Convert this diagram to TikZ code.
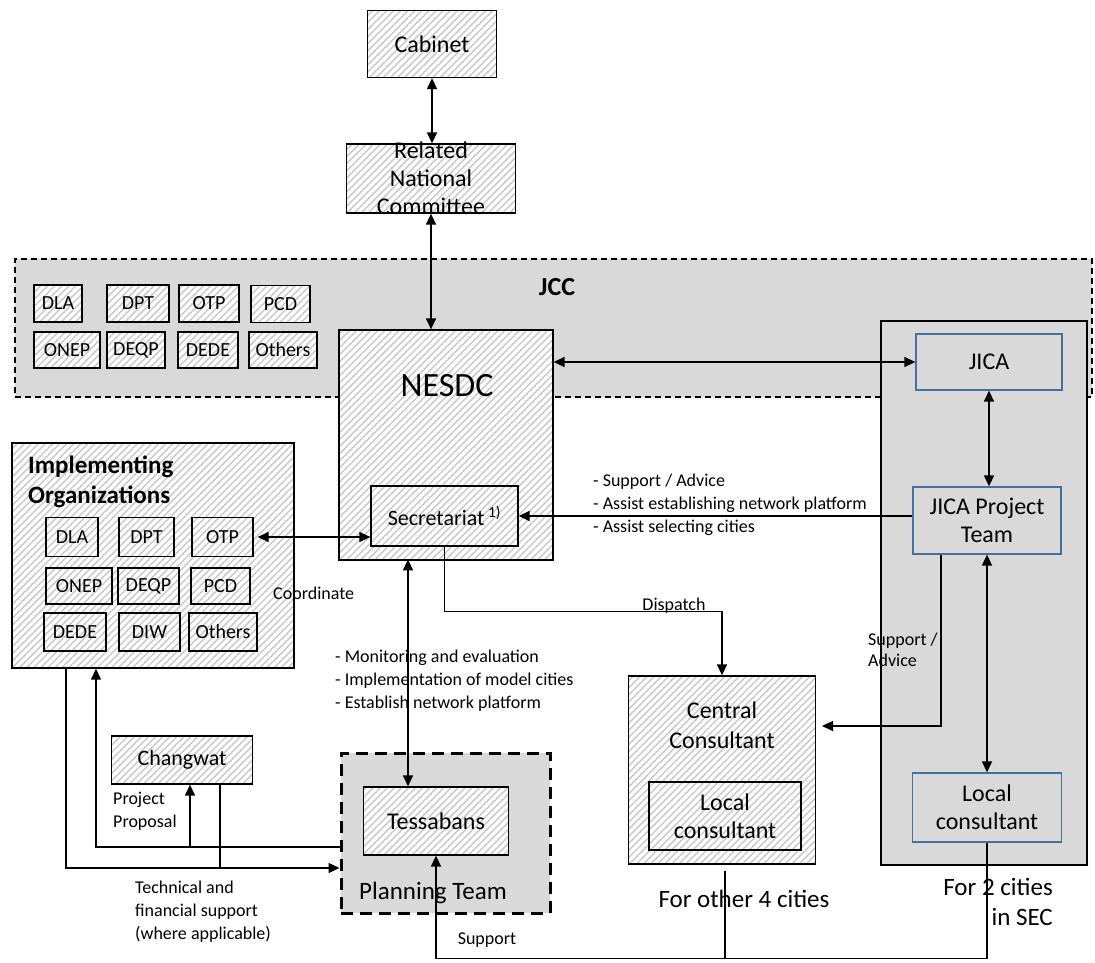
\documentclass[tikz,border=0pt]{standalone}
\usepackage{fontspec}
\setmainfont{Carlito}
\usetikzlibrary{arrows.meta,patterns.meta,positioning}
\definecolor{boxgray}{RGB}{217,217,217}
\definecolor{hatchgray}{RGB}{200,200,200}
\definecolor{jicablue}{RGB}{65,113,156}
\tikzset{
  hatched/.style={draw, line width=1.3pt, preaction={fill=white},
    pattern={Lines[angle=45,distance=5pt,line width=1.4pt]},
    pattern color=hatchgray, inner sep=0pt, align=center},
  bluebox/.style={draw=jicablue, line width=1.3pt, fill=boxgray, inner sep=0pt, align=center},
  boxtext/.style={font=\fontsize{24}{28}\selectfont, align=center, inner sep=0pt},
  orgtext/.style={font=\fontsize{20}{24}\selectfont},
  notetext/.style={font=\fontsize{18}{23}\selectfont, align=left, inner sep=0pt},
  link/.style={line width=1.4pt},
  onearrow/.style={-{Triangle[length=11pt,width=10pt]}},
  twoarrow/.style={{Triangle[length=11pt,width=10pt]}-{Triangle[length=11pt,width=10pt]}},
}
\begin{document}
\begin{tikzpicture}[x=1pt,y=-1pt]
\useasboundingbox (0,0) rectangle (1095,963);
% JCC band and JICA panel
\node[draw, fill=boxgray, line width=1.2pt, dash pattern=on 6pt off 4pt,
  minimum width=1077pt, minimum height=138pt, inner sep=0pt] (jcc) at (553.5,328) {};
\node[font=\bfseries\fontsize{26}{30}\selectfont, inner sep=0pt] (jcclabel) at (557,287) {JCC};
\node[draw, fill=boxgray, line width=1.3pt, minimum width=206pt, minimum height=544pt,
  inner sep=0pt] (team) at (984,593) {};
\foreach \name/\x/\y/\w/\h/\txt in {jdla/58/303.5/48/37/DLA, jdpt/138/303.5/62/37/DPT,
    jotp/209/303.5/60/37/OTP, jpcd/280.5/304/59/37/PCD, jonep/67/350/66/36/ONEP,
    jdeqp/136/350/58/36/DEQP, jdede/208/350/60/36/DEDE, joth/283/350/68/36/Others} % JCC members
  \node[hatched, orgtext, minimum width=\w pt, minimum height=\h pt] (\name) at (\x,\y) {\txt};

% top of the chain
\node[hatched, boxtext, minimum width=129pt, minimum height=67pt] (cab) at (432,44) {Cabinet};
\node[hatched, minimum width=169pt, minimum height=69pt] (rnc) at (431,178.5) {};
\node[boxtext] (rnctext) at (rnc) {Related\\National\\Committee};
\node[hatched, minimum width=214pt, minimum height=230pt] (nesdc) at (446,445) {};
\node[font=\fontsize{34}{40}\selectfont, inner sep=0pt] (nesdctext) at (447,386) {NESDC};
\node[hatched, font=\fontsize{22}{26}\selectfont, minimum width=147pt, minimum height=60pt]
  (secr) at (444.5,516) {Secretariat\,\textsuperscript{1)}};

% JICA side
\node[bluebox, boxtext, minimum width=146pt, minimum height=56pt] (jica) at (989,362) {JICA};
\node[bluebox, boxtext, minimum width=148pt, minimum height=67pt] (jicapt) at (987,520.5) {JICA Project\\Team};
\node[bluebox, boxtext, minimum width=149pt, minimum height=69pt] (lcr) at (987,807.5) {Local\\consultant};

% implementing organizations
\node[hatched, minimum width=282pt, minimum height=225pt] (impl) at (153,555.5) {};
\node[font=\bfseries\fontsize{25}{30}\selectfont, align=left, inner sep=0pt, anchor=west]
  (impltitle) at (28,482) {Implementing\\Organizations};
\foreach \name/\x/\y/\w/\h/\txt in {idla/72/537/52/39/DLA, idpt/146.5/537/55/39/DPT,
    iotp/222.5/537/61/39/OTP, ionep/79/586/66/36/ONEP, ideqp/148.5/586/61/36/DEQP,
    ipcd/220.5/586/59/36/PCD, idede/75/632/62/38/DEDE, idiw/149.5/632/61/38/DIW,
    ioth/223/632/68/38/Others} % member boxes
  \node[hatched, orgtext, minimum width=\w pt, minimum height=\h pt] (\name) at (\x,\y) {\txt};

% lower left
\node[hatched, font=\fontsize{22}{26}\selectfont, minimum width=141pt, minimum height=48pt]
  (chg) at (182,760) {Changwat};
\node[draw, fill=boxgray, line width=3pt, dash pattern=on 12pt off 7pt,
  minimum width=209pt, minimum height=160pt, inner sep=0pt] (plan) at (445.5,833) {};
\node[hatched, boxtext, minimum width=145pt, minimum height=68pt] (tess) at (436,821) {Tessabans};
\node[font=\fontsize{25}{30}\selectfont, inner sep=0pt] (plantext) at (433,893) {Planning Team};

% consultants
\node[hatched, minimum width=187pt, minimum height=188pt] (cc) at (722,770) {};
\node[boxtext, font=\fontsize{24}{30}\selectfont] (cctext) at (722,725) {Central\\Consultant};
\node[hatched, boxtext, minimum width=152pt, minimum height=68pt] (lcc) at (725,816) {Local\\consultant};
\node[font=\fontsize{25}{30}\selectfont, inner sep=0pt] (other4) at (744,899) {For other 4 cities};
\node[font=\fontsize{25}{30}\selectfont, align=right, inner sep=0pt, anchor=east]
  (two) at (1053,902) {For 2 cities\\in SEC};

\coordinate (ccin) at (822,726);
\coordinate (pp) at (190,847);

% connectors
\draw[link,twoarrow] (cab.south) -- (cab.south |- rnc.north);
\draw[link,twoarrow] (rnc.south) -- (rnc.south |- nesdc.north);
\draw[link,twoarrow] (jica.west -| nesdc.east) -- (jica.west);
\draw[link,twoarrow] (jica.south) -- (jica.south |- jicapt.north);
\draw[link,onearrow] (jicapt.west |- secr.east) -- (secr.east);
\draw[link,twoarrow] (jicapt.south) -- (jicapt.south |- lcr.north);
\draw[link,onearrow] ([xshift=-46pt]jicapt.south) |- (ccin);
\draw[link,onearrow] (secr.south) -- ++(0,65) -| (cc.north);
\draw[link,twoarrow,shorten <=4pt] (iotp.east) -- (iotp.east -| secr.west);
\draw[link,twoarrow] ([xshift=-28pt]tess.north) -- ++(0,-227);
\draw[link,onearrow] ([xshift=-87pt]impl.south) |- ([yshift=-35pt]plan.west);
\draw[link,onearrow] ([yshift=-14pt]plan.west) -| ([xshift=-57pt]impl.south);
\draw[link,onearrow] (pp) -- (pp |- chg.south);
\draw[link] ([xshift=38pt]chg.south) -- ++(0,82);
\draw[link,onearrow] (lcr.south) -- ++(0,116) -| (tess.south);
\draw[link] ([xshift=3pt,yshift=-6pt]cc.south) -- ++(0,88);

% labels
\node[notetext, anchor=west] (advice) at (593,505)
  {- Support / Advice\\- Assist establishing network platform\\- Assist selecting cities};
\node[notetext, anchor=west] (tasks) at (335,681)
  {- Monitoring and evaluation\\- Implementation of model cities\\- Establish network platform};
\node[notetext, anchor=west] (coord) at (273,593) {Coordinate};
\node[notetext] (dispatch) at (674,606) {Dispatch};
\node[notetext, font=\fontsize{18}{21}\selectfont, anchor=west] (sadv) at (868,650) {Support /\\Advice};
\node[notetext, anchor=west] (proposal) at (113,811) {Project\\Proposal};
\node[notetext, anchor=west] (techfin) at (135,912) {Technical and\\financial support\\(where applicable)};
\node[notetext] (support) at (487,940) {Support};
\end{tikzpicture}
\end{document}
